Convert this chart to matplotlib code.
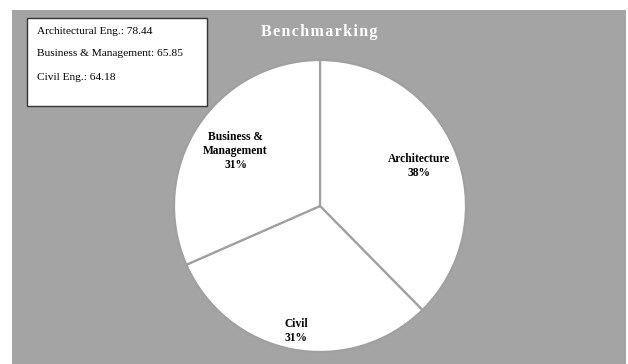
import numpy as np
import matplotlib
matplotlib.use("Agg")
import matplotlib.pyplot as plt
from matplotlib.patches import Rectangle

# data
categories = ["Architecture", "Civil", "Business &\nManagement"]
scores = [78.44, 64.18, 65.85]
pct_labels = ["38%", "31%", "31%"]
legend_lines = ["Architectural Eng.: 78.44", "Business & Management: 65.85", "Civil Eng.: 64.18"]
title = "Benchmarking"

W, H = 628, 364
BG = "#a4a4a4"
SERIF = ["Liberation Serif", "DejaVu Serif"]

fig = plt.figure(figsize=(W / 100, H / 100), dpi=100)
ax = fig.add_axes([0, 0, 1, 1])

# grey panel
ax.add_patch(Rectangle((12, 0), 614, 354, facecolor=BG, edgecolor="none", zorder=0))

center = (320, 158)
radius = 146
wedges, _ = ax.pie(scores, colors=["white"] * 3, startangle=90, counterclock=False,
                   center=center, radius=radius, frame=True,
                   wedgeprops=dict(edgecolor="#a0a0a0", linewidth=1.6))
ax.set_xlim(0, W)
ax.set_ylim(0, H)
ax.set_aspect("equal")
ax.axis("off")

label_r = [0.73, 0.87, 0.69]
for w, cat, pct, fr in zip(wedges, categories, pct_labels, label_r):
    mid = np.deg2rad((w.theta1 + w.theta2) / 2)
    x = center[0] + fr * radius * np.cos(mid)
    y = center[1] + fr * radius * np.sin(mid)
    ax.text(x, y, f"{cat}\n{pct}", ha="center", va="center",
            family=SERIF, fontweight="bold", fontsize=8.3, linespacing=1.2, zorder=5)

# title with spaced letters
ax.text(319, 332, "\u200a".join(title), ha="center", va="center", color="white",
        family=SERIF, fontweight="bold", fontsize=11.5, zorder=5)

# info box
ax.add_patch(Rectangle((27, 258), 180, 88, facecolor="white", edgecolor="#333333",
                       linewidth=1.0, zorder=6))
for i, line in enumerate(legend_lines):
    ax.text(37, 333 - i * 23, line, ha="left", va="center", family=SERIF,
            fontsize=8.2, zorder=7)

fig.savefig("out.png", dpi=100)
